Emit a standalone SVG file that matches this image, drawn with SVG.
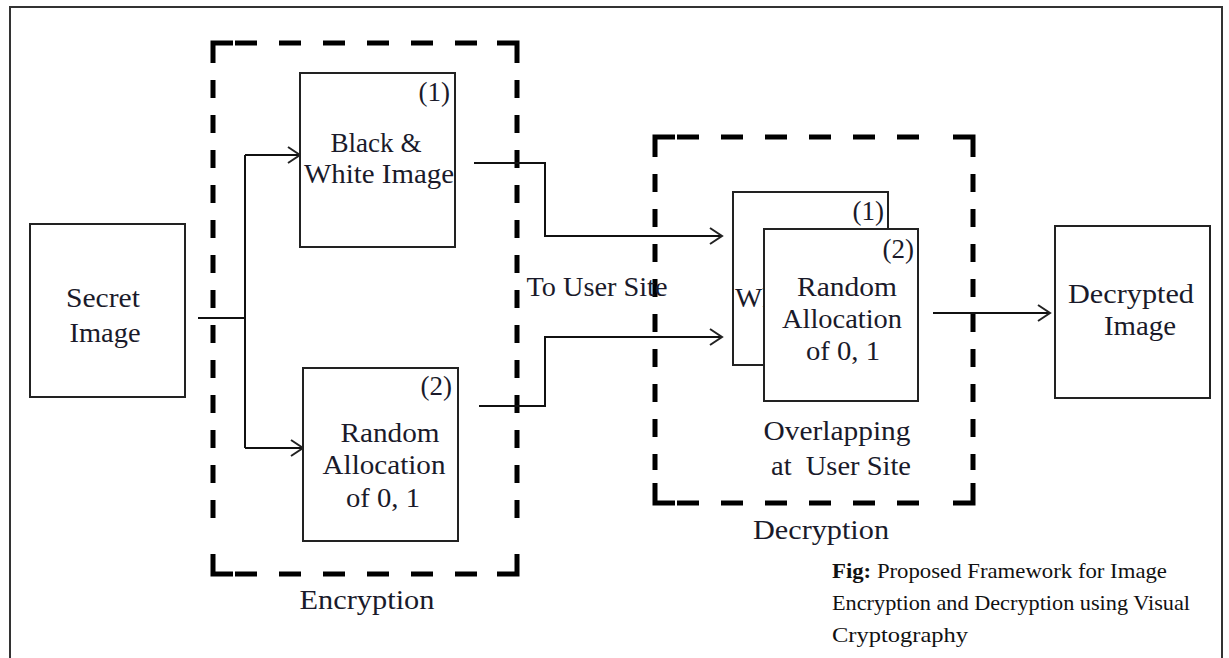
<svg xmlns="http://www.w3.org/2000/svg" width="1229" height="658" viewBox="0 0 1229 658">
  <style>
    .box { fill: #fff; stroke: #222; stroke-width: 2; }
    .frame { fill: none; stroke: #333; stroke-width: 2; }
    .dh { fill: none; stroke: #000; stroke-width: 5; stroke-dasharray: 22 22; }
    .dv { fill: none; stroke: #000; stroke-width: 5; stroke-dasharray: 18 17; }
    .corner { fill: none; stroke: #000; stroke-width: 5; }
    .wire { fill: none; stroke: #111; stroke-width: 2; }
    .lbl { font-family: "Liberation Serif", "DejaVu Serif", serif; font-size: 27px; fill: #1a1a2a; text-anchor: middle; }
    .num { font-family: "Liberation Serif", "DejaVu Serif", serif; font-size: 27px; fill: #1a1a2a; text-anchor: end; }
    .cap { font-family: "Liberation Serif", "Times New Roman", serif; font-size: 22px; fill: #111; }
  </style>
  <defs>
    <marker id="open" markerWidth="16" markerHeight="20" refX="14" refY="10" orient="auto" markerUnits="userSpaceOnUse">
      <path d="M2,2 L14,10 L2,18" fill="none" stroke="#222" stroke-width="2"/>
    </marker>
    <!-- visible strip of the share lying underneath -->
    <clipPath id="under-strip">
      <rect x="733" y="192" width="31" height="173"/>
    </clipPath>
  </defs>

  <rect width="1229" height="658" fill="#fff"/>
  <!-- page frame -->
  <path class="frame" d="M10,665 L10,7 L1222,7 L1222,665"/>

  <!-- encryption stage boundary -->
  <g id="encryption-stage">
    <path class="dh" d="M235,43 H495 M235,574 H495"/>
    <path class="dv" d="M213,80 V520 M517,80 V520"/>
    <path class="corner" d="M213,63 V43 H233 M497,43 H517 V63 M213,554 V574 H233 M497,574 H517 V554"/>
  </g>

  <!-- decryption stage boundary -->
  <g id="decryption-stage">
    <path class="dh" d="M677,137 H935 M677,503 H935"/>
    <path class="dv" d="M655,174 V470 M973,174 V470"/>
    <path class="corner" d="M655,157 V137 H675 M953,137 H973 V157 M655,483 V503 H675 M953,503 H973 V483"/>
  </g>

  <!-- connectors -->
  <g id="connectors">
    <path class="wire" d="M198,318 L245,318"/>
    <path class="wire" d="M245,155 L245,448"/>
    <path class="wire" d="M245,155 L300,155" marker-end="url(#open)"/>
    <path class="wire" d="M245,448 L303,448" marker-end="url(#open)"/>
    <path class="wire" d="M474,163 L545,163 L545,236 L722,236" marker-end="url(#open)"/>
    <path class="wire" d="M479,406 L545,406 L545,337 L722,337" marker-end="url(#open)"/>
    <path class="wire" d="M933,313 L1050,313" marker-end="url(#open)"/>
  </g>

  <g id="secret-image">
    <rect class="box" x="30" y="224" width="155" height="173"/>
    <text class="lbl" x="103" y="307" textLength="74" lengthAdjust="spacingAndGlyphs">Secret</text>
    <text class="lbl" x="105" y="342" textLength="71" lengthAdjust="spacingAndGlyphs">Image</text>
  </g>

  <g id="share-1">
    <rect class="box" x="300" y="73" width="155" height="174"/>
    <text class="num" x="450" y="101">(1)</text>
    <text class="lbl" x="376" y="152" textLength="91" lengthAdjust="spacingAndGlyphs">Black &amp;</text>
    <text class="lbl" x="379" y="183" textLength="150" lengthAdjust="spacingAndGlyphs">White Image</text>
  </g>

  <g id="share-2">
    <rect class="box" x="303" y="368" width="155" height="173"/>
    <text class="num" x="452" y="395">(2)</text>
    <text class="lbl" x="390" y="442" textLength="99" lengthAdjust="spacingAndGlyphs">Random</text>
    <text class="lbl" x="384" y="474" textLength="123" lengthAdjust="spacingAndGlyphs">Allocation</text>
    <text class="lbl" x="383" y="507" textLength="74" lengthAdjust="spacingAndGlyphs">of 0, 1</text>
  </g>

  <text id="to-user-site" class="lbl" x="597" y="296" textLength="141" lengthAdjust="spacingAndGlyphs">To User Site</text>

  <!-- share (1) lies underneath share (2); only its left edge shows -->
  <g id="overlap-share-1">
    <rect class="box" x="733" y="192" width="155" height="173"/>
    <text class="num" x="884" y="220">(1)</text>
    <text class="lbl" x="810" y="307" textLength="150" lengthAdjust="spacingAndGlyphs" clip-path="url(#under-strip)">White Image</text>
  </g>

  <g id="overlap-share-2">
    <rect class="box" x="764" y="229" width="154" height="172"/>
    <text class="num" x="914" y="258">(2)</text>
    <text class="lbl" x="847" y="296" textLength="100" lengthAdjust="spacingAndGlyphs">Random</text>
    <text class="lbl" x="842" y="328" textLength="120" lengthAdjust="spacingAndGlyphs">Allocation</text>
    <text class="lbl" x="843" y="360" textLength="74" lengthAdjust="spacingAndGlyphs">of 0, 1</text>
  </g>

  <g id="decrypted-image">
    <rect class="box" x="1055" y="226" width="155" height="172"/>
    <text class="lbl" x="1131" y="303" textLength="126" lengthAdjust="spacingAndGlyphs">Decrypted</text>
    <text class="lbl" x="1140" y="335" textLength="72" lengthAdjust="spacingAndGlyphs">Image</text>
  </g>

  <text class="lbl" x="837" y="440" textLength="147" lengthAdjust="spacingAndGlyphs">Overlapping</text>
  <text class="lbl" x="841" y="475" textLength="140" lengthAdjust="spacingAndGlyphs" xml:space="preserve">at  User Site</text>
  <text class="lbl" x="821" y="539" textLength="136" lengthAdjust="spacingAndGlyphs">Decryption</text>
  <text class="lbl" x="367" y="609" textLength="135" lengthAdjust="spacingAndGlyphs">Encryption</text>

  <g id="caption" class="cap">
    <text x="832" y="578" textLength="335" lengthAdjust="spacingAndGlyphs"><tspan font-weight="bold">Fig:</tspan> Proposed Framework for Image</text>
    <text x="832" y="610" textLength="358" lengthAdjust="spacingAndGlyphs">Encryption and Decryption using Visual</text>
    <text x="832" y="642" textLength="136" lengthAdjust="spacingAndGlyphs">Cryptography</text>
  </g>
</svg>
